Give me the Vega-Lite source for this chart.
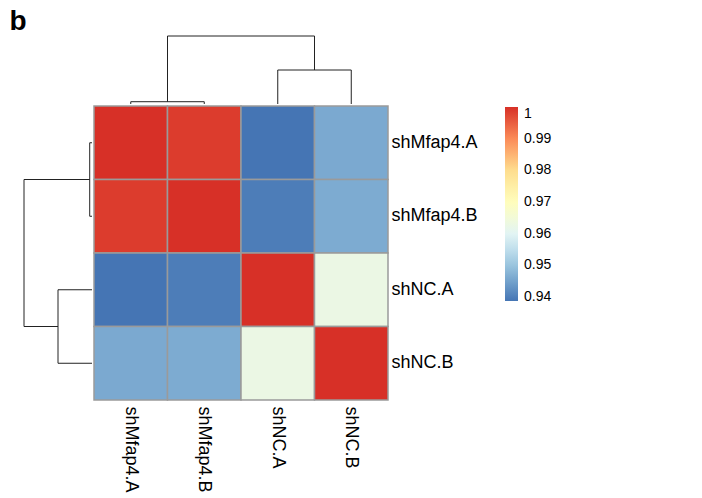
{
  "$schema": "https://vega.github.io/schema/vega-lite/v6.json",
  "padding": {"left": 9, "top": 7, "right": 5, "bottom": 5},
  "title": {"text": "b", "fontSize": 28, "fontWeight": "bold", "anchor": "start", "frame": "bounds", "color": "black", "font": "Liberation Sans", "dx": -14, "offset": 0},
  "config": {
    "font": "Liberation Sans",
    "view": {"stroke": null},
    "concat": {"spacing": 0}
  },
  "datasets": {
    "dendro": [
      {"pos": 0.5, "pos2": 0.5, "h": 0, "h2": 0.031},
      {"pos": 1.5, "pos2": 1.5, "h": 0, "h2": 0.031},
      {"pos": 0.5, "pos2": 1.5, "h": 0.031, "h2": 0.031},
      {"pos": 2.5, "pos2": 2.5, "h": 0, "h2": 0.46},
      {"pos": 3.5, "pos2": 3.5, "h": 0, "h2": 0.46},
      {"pos": 2.5, "pos2": 3.5, "h": 0.46, "h2": 0.46},
      {"pos": 1.0, "pos2": 1.0, "h": 0.031, "h2": 0.92},
      {"pos": 3.0, "pos2": 3.0, "h": 0.46, "h2": 0.92},
      {"pos": 1.0, "pos2": 3.0, "h": 0.92, "h2": 0.92}
    ],
    "cor": [
      {"row": "shMfap4.A", "col": "shMfap4.A", "value": 1.0},
      {"row": "shMfap4.A", "col": "shMfap4.B", "value": 0.9987},
      {"row": "shMfap4.A", "col": "shNC.A", "value": 0.9388},
      {"row": "shMfap4.A", "col": "shNC.B", "value": 0.9460},
      {"row": "shMfap4.B", "col": "shMfap4.A", "value": 0.9987},
      {"row": "shMfap4.B", "col": "shMfap4.B", "value": 1.0},
      {"row": "shMfap4.B", "col": "shNC.A", "value": 0.9399},
      {"row": "shMfap4.B", "col": "shNC.B", "value": 0.9463},
      {"row": "shNC.A", "col": "shMfap4.A", "value": 0.9388},
      {"row": "shNC.A", "col": "shMfap4.B", "value": 0.9399},
      {"row": "shNC.A", "col": "shNC.A", "value": 1.0},
      {"row": "shNC.A", "col": "shNC.B", "value": 0.9628},
      {"row": "shNC.B", "col": "shMfap4.A", "value": 0.9460},
      {"row": "shNC.B", "col": "shMfap4.B", "value": 0.9463},
      {"row": "shNC.B", "col": "shNC.A", "value": 0.9628},
      {"row": "shNC.B", "col": "shNC.B", "value": 1.0}
    ]
  },
  "columns": 2,
  "align": "each",
  "spacing": 0,
  "concat": [
    {
      "width": 68, "height": 68,
      "data": {"values": []},
      "mark": {"type": "rule", "opacity": 0},
      "encoding": {}
    },
    {
      "width": 294, "height": 68,
      "data": {"name": "dendro"},
      "mark": {"type": "rule", "color": "#222222", "strokeWidth": 1},
      "encoding": {
        "x": {"field": "pos", "type": "quantitative", "scale": {"domain": [0, 4], "nice": false, "zero": false}, "axis": null},
        "x2": {"field": "pos2"},
        "y": {"field": "h", "type": "quantitative", "scale": {"domain": [0, 0.92], "nice": false, "zero": false}, "axis": null},
        "y2": {"field": "h2"}
      }
    },
    {
      "width": 68, "height": 294,
      "data": {"name": "dendro"},
      "mark": {"type": "rule", "color": "#222222", "strokeWidth": 1},
      "encoding": {
        "y": {"field": "pos", "type": "quantitative", "scale": {"domain": [0, 4], "nice": false, "zero": false, "reverse": true}, "axis": null},
        "y2": {"field": "pos2"},
        "x": {"field": "h", "type": "quantitative", "scale": {"domain": [0, 0.92], "nice": false, "zero": false, "reverse": true}, "axis": null},
        "x2": {"field": "h2"}
      }
    },
    {
      "width": 294, "height": 294,
      "data": {"name": "cor"},
      "mark": {"type": "rect", "stroke": "#9a9a9a", "strokeWidth": 1.5},
      "encoding": {
        "x": {"field": "col", "type": "nominal", "sort": ["shMfap4.A", "shMfap4.B", "shNC.A", "shNC.B"], "scale": {"paddingInner": 0, "paddingOuter": 0},
          "axis": {"orient": "bottom", "title": null, "labelAngle": 90, "labelFontSize": 18, "labelColor": "black", "domain": false, "ticks": false, "labelPadding": 6, "labelAlign": "left", "labelBaseline": "middle"}},
        "y": {"field": "row", "type": "nominal", "sort": ["shMfap4.A", "shMfap4.B", "shNC.A", "shNC.B"], "scale": {"paddingInner": 0, "paddingOuter": 0},
          "axis": {"orient": "right", "title": null, "labelFontSize": 18, "labelColor": "black", "domain": false, "ticks": false, "labelPadding": 3}},
        "color": {"field": "value", "type": "quantitative",
          "scale": {"domain": [0.9388, 0.949, 0.9592, 0.9694, 0.9796, 0.9898, 1.0], "range": ["#4575B4", "#91BFDB", "#E0F3F8", "#FFFFBF", "#FEE090", "#FC8D59", "#D73027"], "interpolate": "rgb"},
          "legend": {"orient": "none", "legendX": 481, "legendY": 71, "title": null, "padding": 0, "gradientLength": 194, "gradientThickness": 13, "gradientStrokeWidth": 0, "labelFontSize": 14, "labelColor": "black", "labelOffset": 6, "values": [0.94, 0.95, 0.96, 0.97, 0.98, 0.99, 1.0], "format": ".2~f", "direction": "vertical"}}
      }
    }
  ]
}
